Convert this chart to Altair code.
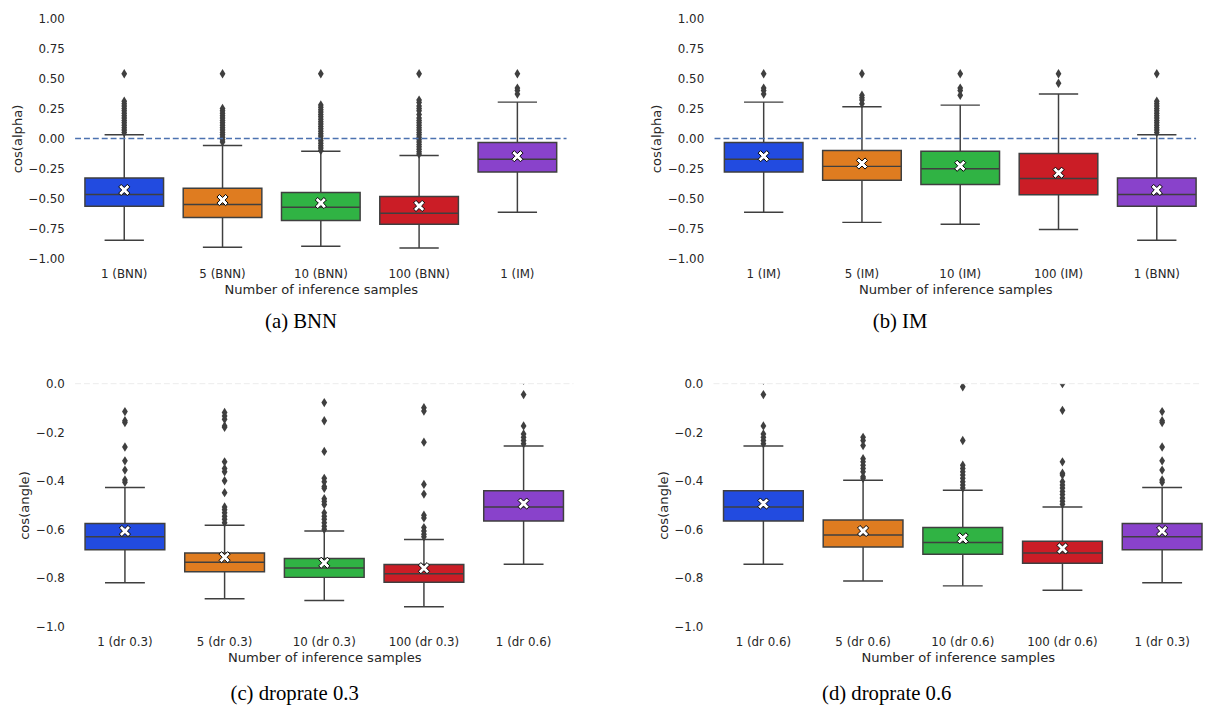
import altair as alt
import pandas as pd

PALETTE = ["#224be0", "#df7c20", "#30b344", "#cb1d26", "#8942cb"]
EDGE = "#3f3f3f"
TEXT = "#262626"
XTITLE = "Number of inference samples"

# ---------------- Panel (a) BNN ----------------
A_CATS = ["1 (BNN)", "5 (BNN)", "10 (BNN)", "100 (BNN)", "1 (IM)"]
A_LOW = [-0.850, -0.907, -0.900, -0.913, -0.616]
A_Q1 = [-0.566, -0.660, -0.685, -0.715, -0.280]
A_MED = [-0.467, -0.550, -0.574, -0.624, -0.173]
A_Q3 = [-0.330, -0.415, -0.450, -0.484, -0.033]
A_HIGH = [0.030, -0.058, -0.107, -0.143, 0.303]
A_MEAN = [-0.430, -0.514, -0.539, -0.563, -0.148]
A_OUT = [
    [0.54, 0.31, 0.29, 0.27, 0.25, 0.23, 0.21, 0.19, 0.17, 0.15, 0.13, 0.11, 0.09, 0.07, 0.05],
    [0.54, 0.25, 0.23, 0.21, 0.19, 0.17, 0.15, 0.13, 0.11, 0.09, 0.07, 0.05, 0.03, 0.01, -0.01, -0.03],
    [0.54, 0.28, 0.26, 0.24, 0.22, 0.20, 0.18, 0.16, 0.14, 0.12, 0.10, 0.08, 0.06, 0.04, 0.02, 0.00,
     -0.02, -0.04, -0.06, -0.08, -0.10],
    [0.54, 0.32, 0.30, 0.27, 0.25, 0.23, 0.20, 0.17, 0.15, 0.13, 0.11, 0.09, 0.07, 0.05, 0.03, 0.01,
     -0.01, -0.03, -0.05, -0.07, -0.09, -0.11, -0.13],
    [0.54, 0.42, 0.40, 0.37],
]

# ---------------- Panel (b) IM ----------------
B_CATS = ["1 (IM)", "5 (IM)", "10 (IM)", "100 (IM)", "1 (BNN)"]
B_LOW = [-0.616, -0.700, -0.715, -0.759, -0.850]
B_Q1 = [-0.280, -0.349, -0.385, -0.470, -0.566]
B_MED = [-0.173, -0.233, -0.252, -0.335, -0.467]
B_Q3 = [-0.033, -0.101, -0.107, -0.126, -0.330]
B_HIGH = [0.303, 0.264, 0.278, 0.371, 0.030]
B_MEAN = [-0.148, -0.209, -0.228, -0.286, -0.430]
B_OUT = [
    [0.54, 0.42, 0.40, 0.37],
    [0.54, 0.36, 0.34, 0.32, 0.29],
    [0.54, 0.42, 0.40, 0.36],
    [0.54, 0.46],
    [0.54, 0.31, 0.29, 0.27, 0.25, 0.23, 0.21, 0.19, 0.17, 0.15, 0.13, 0.11, 0.09, 0.07, 0.05],
]

# ---------------- Panel (c) droprate 0.3 ----------------
C_CATS = ["1 (dr 0.3)", "5 (dr 0.3)", "10 (dr 0.3)", "100 (dr 0.3)", "1 (dr 0.6)"]
C_LOW = [-0.820, -0.886, -0.893, -0.919, -0.744]
C_Q1 = [-0.684, -0.775, -0.798, -0.818, -0.566]
C_MED = [-0.631, -0.736, -0.759, -0.783, -0.508]
C_Q3 = [-0.576, -0.698, -0.720, -0.745, -0.441]
C_HIGH = [-0.428, -0.583, -0.607, -0.642, -0.257]
C_MEAN = [-0.607, -0.715, -0.738, -0.760, -0.494]
C_OUT = [
    [-0.115, -0.153, -0.160, -0.261, -0.318, -0.356, -0.397, -0.406],
    [-0.119, -0.133, -0.147, -0.174, -0.180, -0.322, -0.349, -0.363, -0.400, -0.449, -0.508, -0.519,
     -0.532, -0.546, -0.559, -0.573],
    [-0.078, -0.153, -0.279, -0.390, -0.404, -0.424, -0.431, -0.474, -0.485, -0.498, -0.532, -0.546,
     -0.559, -0.573, -0.587, -0.600],
    [-0.099, -0.113, -0.241, -0.415, -0.455, -0.542, -0.553, -0.593, -0.607, -0.620, -0.631],
    [0.014, -0.045, -0.174, -0.207, -0.221, -0.234, -0.248],
]

# ---------------- Panel (d) droprate 0.6 ----------------
D_CATS = ["1 (dr 0.6)", "5 (dr 0.6)", "10 (dr 0.6)", "100 (dr 0.6)", "1 (dr 0.3)"]
D_LOW = [-0.744, -0.813, -0.833, -0.851, -0.820]
D_Q1 = [-0.566, -0.673, -0.703, -0.740, -0.684]
D_MED = [-0.508, -0.623, -0.654, -0.698, -0.631]
D_Q3 = [-0.441, -0.562, -0.593, -0.649, -0.576]
D_HIGH = [-0.257, -0.398, -0.439, -0.508, -0.428]
D_MEAN = [-0.494, -0.607, -0.637, -0.679, -0.607]
D_OUT = [
    [0.014, -0.045, -0.174, -0.207, -0.221, -0.234, -0.248],
    [-0.221, -0.234, -0.255, -0.309, -0.322, -0.336, -0.349, -0.363, -0.383, -0.390],
    [-0.013, -0.234, -0.336, -0.349, -0.363, -0.376, -0.390, -0.404, -0.417, -0.430],
    [0.000, -0.110, -0.322, -0.369, -0.376, -0.404, -0.417, -0.430, -0.444, -0.457, -0.471, -0.484, -0.497],
    [-0.115, -0.153, -0.160, -0.261, -0.318, -0.356, -0.397, -0.406],
]

TOP_TICKS = [-1.0, -0.75, -0.5, -0.25, 0.0, 0.25, 0.5, 0.75, 1.0]
BOT_TICKS = [-1.0, -0.8, -0.6, -0.4, -0.2, 0.0]

DIAMOND = "M0,-1L0.62,0L0,1L-0.62,0Z"
XMARK = ("M-1,-0.55L-0.55,-1L0,-0.45L0.55,-1L1,-0.55L0.45,0L1,0.55L0.55,1L0,0.45"
         "L-0.55,1L-1,0.55L-0.45,0Z")


def make_panel(cats, low, q1, med, q3, high, mean, outs, ydomain, yticks, yfmt, ytitle,
               width, height, caption, dx, offset, trim, zero_color, zero_width):
    n = len(cats)
    step = width / (n - 0.1) if trim else width / n
    box_df = pd.DataFrame(dict(cat=cats, low=low, q1=q1, med=med, q3=q3, high=high, mean=mean))
    out_df = pd.DataFrame(dict(cat=[c for c, vals in zip(cats, outs) for _ in vals],
                               val=[v for vals in outs for v in vals]))
    zero_df = pd.DataFrame(dict(zero=[0.0]))

    xscale = alt.Scale(domain=cats, paddingInner=0.2,
                       paddingOuter=0.05 if trim else 0.1,
                       align=1.0 if trim else 0.5)
    x = alt.X("cat:N", scale=xscale, sort=cats, title=XTITLE,
              axis=alt.Axis(labelAngle=0, labelOverlap=False))
    yscale = alt.Scale(domain=ydomain, nice=False, zero=False)
    yaxis = alt.Axis(values=yticks, format=yfmt)

    def Y(field):
        return alt.Y(field, type="quantitative", scale=yscale, axis=yaxis, title=ytitle)

    whisk = alt.Chart(box_df).mark_rule(color=EDGE, strokeWidth=1.5).encode(
        x=x, y=Y("low"), y2=alt.Y2("high"))
    cap_lo = alt.Chart(box_df).mark_tick(color=EDGE, thickness=1.5, size=0.4 * step, opacity=1).encode(
        x=x, y=Y("low"))
    cap_hi = alt.Chart(box_df).mark_tick(color=EDGE, thickness=1.5, size=0.4 * step, opacity=1).encode(
        x=x, y=Y("high"))
    box = alt.Chart(box_df).mark_bar(stroke=EDGE, strokeWidth=1.5, opacity=1).encode(
        x=x, y=Y("q1"), y2=alt.Y2("q3"),
        fill=alt.Fill("cat:N", scale=alt.Scale(domain=cats, range=PALETTE), legend=None))
    median = alt.Chart(box_df).mark_tick(color=EDGE, thickness=1.5, size=0.8 * step, opacity=1).encode(
        x=x, y=Y("med"))
    outl = alt.Chart(out_df).mark_point(shape=DIAMOND, filled=True, color=EDGE, size=90,
                                        opacity=1, clip=True).encode(x=x, y=Y("val"))
    mn = alt.Chart(box_df).mark_point(shape=XMARK, filled=True, fill="white", stroke="black",
                                      strokeWidth=1, size=128, opacity=1).encode(x=x, y=Y("mean"))
    zero = alt.Chart(zero_df).mark_rule(color=zero_color, strokeDash=[6, 3],
                                        strokeWidth=zero_width).encode(
        y=Y("zero"), x=alt.value(0), x2=alt.value("width"))

    return alt.layer(whisk, cap_lo, cap_hi, box, median, outl, mn, zero).properties(
        width=width, height=height,
        title=alt.TitleParams(text=caption, orient="bottom", anchor="middle", dx=dx,
                              offset=offset, font="Liberation Serif", fontSize=21,
                              fontWeight="normal", color="black"))


pa = make_panel(A_CATS, A_LOW, A_Q1, A_MED, A_Q3, A_HIGH, A_MEAN, A_OUT, [-1, 1], TOP_TICKS, ".2f",
                "cos(alpha)", 498, 243, "(a) BNN", -20, 15, False, "#4c72b0", 1.5)
pb = make_panel(B_CATS, B_LOW, B_Q1, B_MED, B_Q3, B_HIGH, B_MEAN, B_OUT, [-1, 1], TOP_TICKS, ".2f",
                "cos(alpha)", 488, 243, "(b) IM", -56, 15, True, "#4c72b0", 1.5)
pc = make_panel(C_CATS, C_LOW, C_Q1, C_MED, C_Q3, C_HIGH, C_MEAN, C_OUT, [-1, 0], BOT_TICKS, ".1f",
                "cos(angle)", 505, 246, "(c) droprate 0.3", -30, 19, False, "#ececec", 1)
pd_ = make_panel(D_CATS, D_LOW, D_Q1, D_MED, D_Q3, D_HIGH, D_MEAN, D_OUT, [-1, 0], BOT_TICKS, ".1f",
                 "cos(angle)", 495, 246, "(d) droprate 0.6", -72, 19, True, "#ececec", 1)

top = alt.hconcat(pa, pb, spacing=83).resolve_scale(x="independent", y="independent", fill="independent")
bottom = alt.hconcat(pc, pd_, spacing=82).resolve_scale(x="independent", y="independent", fill="independent")

chart = alt.vconcat(top, bottom, spacing=46).resolve_scale(
    x="independent", y="independent", fill="independent"
).properties(
    padding={"left": 2, "top": 0, "right": 0, "bottom": 0},
    background="white",
).configure_view(stroke=None).configure_axis(
    domain=False, ticks=False, tickSize=0, grid=False,
    labelFont="DejaVu Sans", labelFontSize=12, labelColor=TEXT,
    titleFont="DejaVu Sans", titleFontSize=13.3, titleFontWeight="normal", titleColor=TEXT,
).configure_axisX(labelPadding=10, titlePadding=4).configure_axisY(labelPadding=11, titlePadding=4)

chart.save("out.html", embed_options={"renderer": "svg", "actions": False})
